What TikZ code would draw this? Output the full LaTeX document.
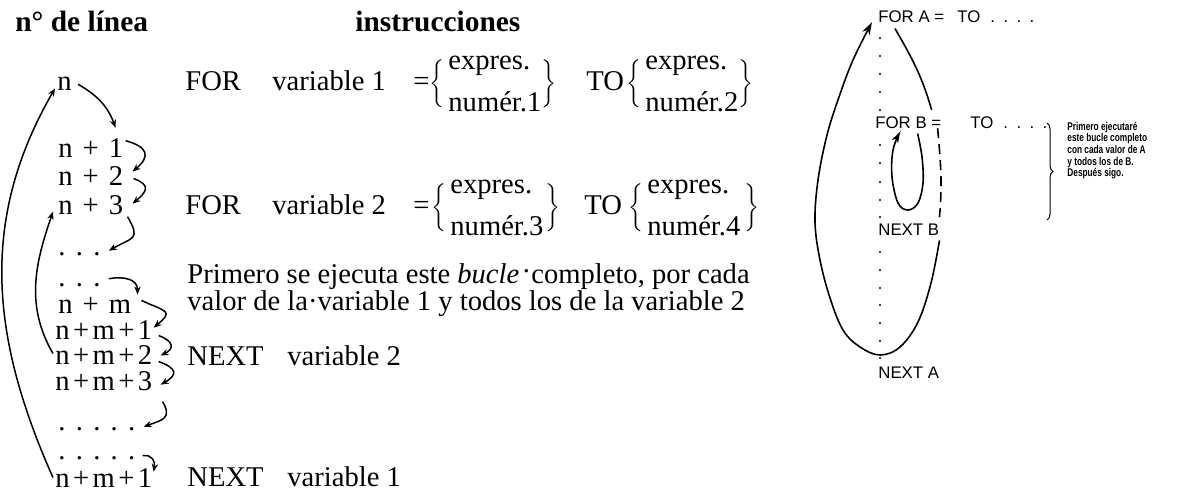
\documentclass[tikz,border=0pt]{standalone}
\usepackage{fontspec}
\setmainfont{Liberation Serif}
\newfontfamily\sansA{Liberation Sans}
\newfontfamily\sansN[FakeStretch=0.74]{Liberation Sans}
\usetikzlibrary{arrows.meta,calc,decorations.pathreplacing}
\newcommand{\gapw}{\hspace{0.35em}}
\newcommand{\gapn}{\hspace{0.12em}}
\newcommand{\dotgap}{\hspace{0.36em}}
\begin{document}
\begin{tikzpicture}[x=0.5pt,y=0.5pt,
  txt/.style={anchor=base west,inner sep=0pt,font=\fontsize{14.3}{17}\selectfont},
  ttl/.style={anchor=base west,inner sep=0pt,font=\fontsize{14.7}{17}\selectfont\bfseries},
  lbl/.style={anchor=base west,inner sep=0pt,font=\sansA\fontsize{8.4}{10}\selectfont},
  note/.style={anchor=base west,inner sep=0pt,font=\sansN\bfseries\fontsize{5.6}{6}\selectfont},
  brk/.style={anchor=west,inner sep=0pt,font=\fontsize{14.3}{17}\selectfont},
  arr/.style={line width=0.75pt,-{Stealth[length=4pt,width=3.2pt]}},
  loopline/.style={line width=0.8pt},
  bigarr/.style={line width=0.8pt,-{Stealth[length=6.5pt,width=4pt]}},
  smallarr/.style={line width=0.8pt,-{Stealth[length=5.5pt,width=3.6pt]}},
]
\useasboundingbox (0,0) rectangle (1188,-493);

% titles
\node[ttl] (t1) at (15,-31) {n° de línea};
\node[ttl] (t2) at (355,-31) {instrucciones};

% left column of line numbers
\node[txt] (n0) at (57,-90) {n};
\node[txt] (n1) at (58,-157) {n\gapw+\gapw1};
\node[txt] (n2) at (58,-185) {n\gapw+\gapw2};
\node[txt] (n3) at (58,-214) {n\gapw+\gapw3};
\node[txt] (d1) at (58,-255) {.\dotgap.\dotgap.};
\node[txt] (d2) at (58,-286) {.\dotgap.\dotgap.};
\node[txt] (m0) at (58,-313) {n\gapw+\gapw m};
\node[txt] (m1) at (55,-339) {n\gapn+\gapn m\gapn+\gapn1};
\node[txt] (m2) at (55,-364) {n\gapn+\gapn m\gapn+\gapn2};
\node[txt] (m3) at (55,-390) {n\gapn+\gapn m\gapn+\gapn3};
\node[txt] (d3) at (58,-430) {.\dotgap.\dotgap.\dotgap.\dotgap.};
\node[txt] (d4) at (58,-459) {.\dotgap.\dotgap.\dotgap.\dotgap.};
\node[txt] (m4) at (55,-487) {n\gapn+\gapn m\gapn+\gapn1};

% instructions
\node[txt] (f1) at (185,-90) {FOR};
\node[txt] (v1) at (272,-90) {variable 1};
\node[txt] (e1) at (413,-90) {=};
\node[brk] (b1) at (429,-84) {$\bigg\{\begin{tabular}{@{\hspace{2pt}}l@{\hspace{0pt}}}expres.\\[4pt]numér.1\end{tabular}\bigg\}$};
\node[txt] (to1) at (586,-90) {TO};
\node[brk] (b2) at (626,-84) {$\bigg\{\begin{tabular}{@{\hspace{2pt}}l@{\hspace{0pt}}}expres.\\[4pt]numér.2\end{tabular}\bigg\}$};

\node[txt] (f2) at (185,-214) {FOR};
\node[txt] (v2) at (272,-214) {variable 2};
\node[txt] (e2) at (413,-214) {=};
\node[brk] (b3) at (431,-208) {$\bigg\{\begin{tabular}{@{\hspace{2pt}}l@{\hspace{1pt}}}expres.\\[4pt]numér.3\end{tabular}\bigg\}$};
\node[txt] (to2) at (584,-214) {TO};
\node[brk] (b4) at (628,-208) {$\bigg\{\begin{tabular}{@{\hspace{2pt}}l@{\hspace{2pt}}}expres.\\[4pt]numér.4\end{tabular}\bigg\}$};

\node[txt] (p1) at (187,-283) {\renewcommand{\arraystretch}{0.72}\begin{tabular}[t]{@{}l@{}}Primero se ejecuta este \textit{bucle}\hspace{0.12em}\raisebox{0.36em}{.}\hspace{0.05em}completo, por cada\\valor de la·variable 1 y todos los de la variable 2\end{tabular}};

\node[txt] (x2) at (187,-365) {NEXT};
\node[txt] (y2) at (287,-365) {variable 2};
\node[txt] (x1) at (187,-486) {NEXT};
\node[txt] (y1) at (287,-486) {variable 1};

% left connectors
\draw[arr] ($(m4.west)+(-2,0)$) to[out=114,in=240] ($(n0.south west)+(-2,2)$);
\draw[arr] ($(m2.west)+(-2,1)$) to[out=120,in=251] ($(n3.south west)+(-5,3)$);
\draw[arr] ($(n0.east)+(6,-1)$) to[out=-30,in=110] ($(n1.north east)+(-8,10)$);
\draw[arr] ($(n1.north east)+(2,-3)$) to[out=-15,in=40,looseness=1.9] ($(n2.east)+(9,4)$);
\draw[arr] ($(n2.east)+(10,-3)$) to[out=-20,in=40,looseness=1.9] ($(n3.east)+(9,1)$);
\draw[arr] ($(n3.east)+(4,-12)$) to[out=-60,in=30,looseness=1.8] ($(d1.east)+(8,3)$);
\draw[arr] ($(d2.east)+(8,6)$) to[out=10,in=90,looseness=1.2] ($(m0.north east)+(6,2)$);
\draw[arr] ($(m0.north east)+(10,-4)$) to[out=-25,in=40,looseness=2.3] ($(m1.north east)+(1,-8)$);
\draw[arr] ($(m1.east)+(6,-6)$) to[out=-20,in=26,looseness=2] ($(m2.east)+(8,-1)$);
\draw[arr] ($(m2.east)+(6,-7)$) to[out=-20,in=30,looseness=2.2] ($(m3.east)+(8,-4)$);
\draw[arr] ($(m3.south east)+(10,-11)$) to[out=-60,in=20,looseness=1.6] ($(d3.east)+(8,2)$);
\draw[arr] ($(d4.east)+(7,2)$) to[out=10,in=80,looseness=1.3] ($(m4.north east)+(1,-4)$);

% right diagram
\node[lbl] (FA) at (878,-22) {FOR A =};
\node[lbl] (TA) at (957,-22) {TO\hspace{5pt}.\hspace{4.2pt}.\hspace{4.2pt}.\hspace{4.2pt}.};
\node[lbl] (FB) at (875,-128) {FOR B =};
\node[lbl] (TB) at (970,-128) {TO\hspace{5pt}.\hspace{4.2pt}.\hspace{4.2pt}.\hspace{4.2pt}.};
\node[lbl] (NB) at (878,-235) {NEXT B};
\node[lbl] (NA) at (878,-378) {NEXT A};

\foreach \yy in {38,56,74,92,110,145,163,182,200,217,252,270,288,305,323,341,358}
  \fill (880,-\yy) circle (0.55pt);

\coordinate (s1) at ($(FA.south west)+(17,-6)$);
\coordinate (e1) at ($(FB.north east)+(-10,6)$);
\draw[loopline] (s1) to[out=-60,in=106] (e1);
\coordinate (s2) at ($(FB.east)+(-4,-6)$);
\coordinate (e2) at ($(NB.north east)+(0,6)$);
\draw[loopline,dash pattern=on 5pt off 3pt] (s2) to[out=-85,in=85] (e2);
\coordinate (s3) at ($(NB.south east)+(0,-5)$);
\draw[bigarr] plot[smooth,tension=0.6] coordinates {(s3) (931,-283) (918,-322) (900,-347) (880,-355) (860,-347) (843,-330) (830,-298) (820,-260) (815,-222) (818,-180) (827,-135) (839,-97) (853,-60) (872,-22)};
\coordinate (s4) at ($(FB.south east)+(-24,-5)$);
\draw[smallarr] plot[smooth,tension=0.6] coordinates {(s4) (922,-157) (923,-183) (918,-203) (908,-210) (898,-203) (892,-177) (893,-150) (900,-132)};

\draw[line width=0.5pt,decorate,decoration={brace,amplitude=3pt}] (1047,-123) -- (1047,-220);
\node[note] (r1) at (1067,-130) {Primero ejecutaré};
\node[note] (r2) at (1067,-141.7) {este bucle completo};
\node[note] (r3) at (1067,-153.3) {con cada valor de A};
\node[note] (r4) at (1067,-165) {y todos los de B.};
\node[note] (r5) at (1067,-176.7) {Después sigo.};
\end{tikzpicture}
\end{document}
